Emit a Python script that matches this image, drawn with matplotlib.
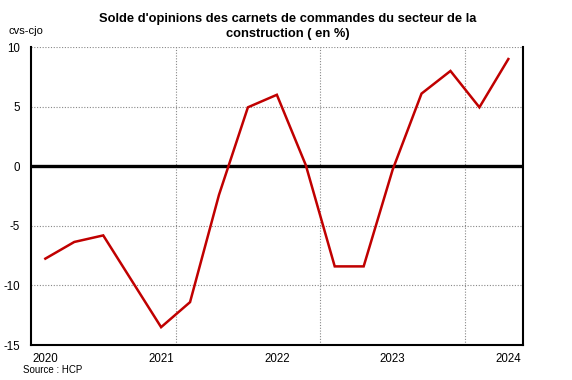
import numpy as np
import matplotlib
matplotlib.use('Agg')
import matplotlib.pyplot as plt

plt.rcParams['font.family'] = ['Liberation Sans', 'DejaVu Sans']
plt.rcParams['axes.unicode_minus'] = False

# quarterly data, 2020 Q1 .. 2024 Q1
values = [-7.75, -6.35, -5.8, -9.65, -13.5, -11.4, -2.4, 4.95, 6.0, 0.1,
          -8.4, -8.4, -0.3, 6.1, 8.0, 4.95, 9.0]
year_labels = ['2020', '2021', '2022', '2023', '2024']
title = "Solde d'opinions des carnets de commandes du secteur de la\nconstruction ( en %)"

x = np.arange(len(values))

fig = plt.figure(figsize=(5.72, 3.8), dpi=100)
ax = fig.add_axes([0.054, 0.092, 0.86, 0.784])

ax.set_xlim(-0.5, len(values) - 0.5)
ax.set_ylim(-15, 10)

# grid: horizontal every 5, vertical every 5 categories (excel style)
for yv in [-10, -5, 5, 10]:
    ax.axhline(yv, color='#888888', lw=0.8, ls=(0, (1, 1.5)), zorder=1)
for xv in [4.5, 9.5, 14.5]:
    ax.axvline(xv, color='#888888', lw=0.8, ls=(0, (1, 1.5)), zorder=1)
ax.axhline(0, color='black', lw=2.4, zorder=2)

ax.plot(x, values, color='#C00000', lw=1.8, zorder=3, solid_joinstyle='miter')

ax.set_xticks(x[::4])
ax.set_xticklabels(year_labels)
ax.set_yticks([-15, -10, -5, 0, 5, 10])
ax.tick_params(length=0, labelsize=8.3, pad=6)
ax.tick_params(axis='y', pad=8)

for s in ['left', 'bottom', 'right']:
    ax.spines[s].set_linewidth(1.5)
ax.spines['top'].set_visible(False)

fig.text(0.503, 0.965, title, ha='center', va='top', fontsize=9.3,
         fontweight='bold', linespacing=1.3)
fig.text(0.014, 0.905, 'cvs-cjo', fontsize=8, va='bottom')
fig.text(0.04, 0.012, 'Source : HCP', fontsize=7, va='bottom')

fig.savefig('out.png', dpi=100)
